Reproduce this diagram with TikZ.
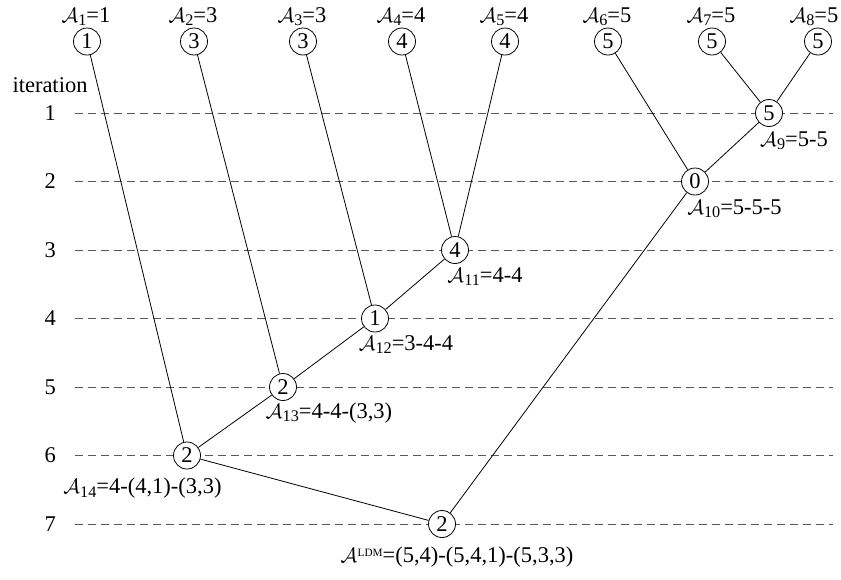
\documentclass[tikz,border=0pt]{standalone}
\usepackage{fontspec}
\setmainfont{Liberation Serif}
\newcommand\Asub[1]{\ensuremath{\mathcal{A}}\kern0.01em\raisebox{-0.32ex}{\scalebox{0.72}{#1}}}
\newcommand\Aldm{\ensuremath{\mathcal{A}}\kern0.02em\raisebox{0.62ex}{\scalebox{0.5}{LDM}}}
\begin{document}
\begin{tikzpicture}[x=1pt,y=-1pt,font=\fontsize{22.5}{27}\selectfont,
  vnode/.style={circle,draw,fill=white,minimum size=27pt,inner sep=0pt,line width=0.8pt},
  lvl/.style={draw=black!65,dash pattern=on 8pt off 5pt,line width=0.9pt},
  edge/.style={line width=0.8pt},
  lab/.style={inner sep=0pt}]
\useasboundingbox (0,0) rectangle (841,579);

% iteration levels
\node[lab] (iter) at (50,85) {iteration};
\foreach \k/\y in {1/113,2/181.5,3/250,4/318.5,5/387,6/455.5,7/524}{
  \node[lab,anchor=east] (it\k) at (56,\y) {\k};
  \coordinate (ls\k) at (75,\y);
  \coordinate (le\k) at (833,\y);
  \draw[lvl] (ls\k) -- (le\k);
}

% leaves
\foreach \i/\x/\lx/\v in {1/87/86/1,2/194/193/3,3/303/302/3,4/402/401/4,5/505/504/4,6/608/607/5,7/712/711/5,8/818/814/5}{
  \node[vnode] (a\i) at (\x,41.5) {\v};
  \node[lab] (la\i) at (\lx,16.5) {\Asub{\i}=\v};
}

% merged nodes
\node[vnode] (a9)  at (769,113)   {5};
\node[vnode] (a10) at (695,181.5) {0};
\node[vnode] (a11) at (455,250)   {4};
\node[vnode] (a12) at (375,318.5) {1};
\node[vnode] (a13) at (283,387)   {2};
\node[vnode] (a14) at (187,455.5) {2};
\node[vnode] (ldm) at (442,524)   {2};

\node[lab] (la9)  at (794,140.5)   {\Asub{9}=5-5};
\node[lab] (la10) at (734.5,208.5) {\Asub{10}=5-5-5};
\node[lab] (la11) at (485,276.5)   {\Asub{11}=4-4};
\node[lab] (la12) at (406,344.5)   {\Asub{12}=3-4-4};
\node[lab] (la13) at (329,413) {\Asub{13}=4-4-(3,3)};
\node[lab] (la14) at (142.5,488.5) {\Asub{14}=4-(4,1)-(3,3)};
\node[lab] (lldm) at (457,557)   {\Aldm=(5,4)-(5,4,1)-(5,3,3)};

% connectors
\draw[edge] (a1) -- (a14);
\draw[edge] (a2) -- (a13);
\draw[edge] (a3) -- (a12);
\draw[edge] (a4) -- (a11);
\draw[edge] (a5) -- (a11);
\draw[edge] (a6) -- (a10);
\draw[edge] (a7) -- (a9);
\draw[edge] (a8) -- (a9);
\draw[edge] (a9) -- (a10);
\draw[edge] (a11) -- (a12);
\draw[edge] (a12) -- (a13);
\draw[edge] (a13) -- (a14);
\draw[edge] (a14) -- (ldm);
\draw[edge] (a10) -- (ldm);
\end{tikzpicture}
\end{document}
